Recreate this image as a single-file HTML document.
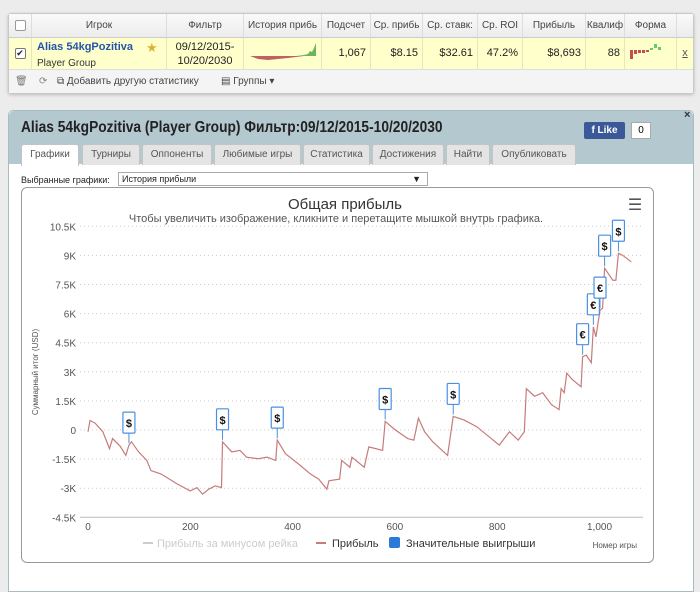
<!DOCTYPE html>
<html><head><meta charset="utf-8"><style>
body{margin:0;width:700px;height:584px;background:#ececec;font-family:"Liberation Sans","DejaVu Sans",sans-serif;position:relative;overflow:hidden}
.abs{position:absolute}
#tbl{left:8px;top:13px;width:684px;height:79px;background:#fff;border:1px solid #c8c8c8;border-radius:3px;box-shadow:0 1px 3px #bbb}
.hc{position:absolute;top:0;height:23px;line-height:23px;font-size:10px;color:#444;text-align:center;border-right:1px solid #ddd;background:linear-gradient(#fafafa,#ececec);border-bottom:1px solid #ccc;overflow:hidden;white-space:nowrap}
.dc{position:absolute;top:24px;height:31px;font-size:11px;color:#222;background:#ffffcc;border-right:1px solid #e5e5c0;border-bottom:1px solid #ddd;text-align:right;line-height:31px;overflow:hidden}
#panel{left:8px;top:110px;width:684px;height:480px;background:#fff;border-radius:5px 5px 0 0;border:1px solid #a9bcc2}
#phead{left:0;top:0;width:684px;height:53px;background:#b3c8cf;border-radius:5px 5px 0 0}
.tab{position:absolute;top:33px;height:20px;line-height:20px;font-size:10px;color:#555;background:#e4e4e4;border:1px solid #c4c4c4;border-bottom:none;border-radius:3px 3px 0 0;text-align:center}
</style></head><body>
<div id="tbl" class="abs">
 <div class="hc" style="left:0;width:22px"><span style="display:inline-block;width:9px;height:9px;border:1px solid #999;border-radius:2px;background:#fff;margin-top:6px"></span></div>
 <div class="hc" style="left:23px;width:134px">Игрок</div>
 <div class="hc" style="left:158px;width:76px">Фильтр</div>
 <div class="hc" style="left:235px;width:77px">История прибь</div>
 <div class="hc" style="left:313px;width:48px">Подсчет</div>
 <div class="hc" style="left:362px;width:51px">Ср. прибь</div>
 <div class="hc" style="left:414px;width:54px">Ср. ставк:</div>
 <div class="hc" style="left:469px;width:44px">Ср. ROI</div>
 <div class="hc" style="left:514px;width:62px">Прибыль</div>
 <div class="hc" style="left:577px;width:38px">Квалиф</div>
 <div class="hc" style="left:616px;width:51px">Форма</div>
 <div class="hc" style="left:668px;width:16px;border-right:none"></div>
 <div class="dc" style="left:0;width:22px;text-align:center"><span style="display:inline-block;width:9px;height:9px;border:1px solid #777;border-radius:2px;background:#fff;font-size:9px;line-height:9px">✔</span></div>
 <div class="dc" style="left:23px;width:134px;text-align:left;line-height:14px"><div style="padding:2px 0 0 5px;font-weight:bold;color:#2255aa;font-size:11px">Alias 54kgPozitiva</div><div style="padding:3px 0 0 5px;font-size:10px;color:#333">Player Group</div><span class="abs" style="left:114px;top:3px;color:#d8b53a;font-size:13px">★</span></div>
 <div class="dc" style="left:158px;width:76px;text-align:center;line-height:14px;padding-top:2px;height:29px">09/12/2015-<br>10/20/2030</div>
 <div class="dc" style="left:235px;width:77px"><svg width="77" height="31"><path d="M6 18 L14 21 L24 22 L34 21 L44 20 L52 19 L60 18 Z" fill="#c06060"/><path d="M52 18 L60 17 L64 16 L66 13 L68 14 L70 10 L72 5 L72 18 Z" fill="#6cb35c"/></svg></div>
 <div class="dc" style="left:313px;width:44px;padding-right:4px">1,067</div>
 <div class="dc" style="left:362px;width:47px;padding-right:4px">$8.15</div>
 <div class="dc" style="left:414px;width:50px;padding-right:4px">$32.61</div>
 <div class="dc" style="left:469px;width:40px;padding-right:4px">47.2%</div>
 <div class="dc" style="left:514px;width:58px;padding-right:4px">$8,693</div>
 <div class="dc" style="left:577px;width:34px;padding-right:4px">88</div>
 <div class="dc" style="left:616px;width:51px"><svg width="51" height="31"><rect x="5" y="12" width="3" height="9" fill="#c05050"/><rect x="9" y="12" width="3" height="4" fill="#c05050"/><rect x="13" y="12" width="3" height="3" fill="#c05050"/><rect x="17" y="12" width="3" height="3" fill="#c05050"/><rect x="21" y="12" width="3" height="2" fill="#c05050"/><rect x="25" y="10" width="3" height="2" fill="#6c6"/><rect x="29" y="6" width="3" height="4" fill="#6c6"/><rect x="33" y="9" width="3" height="3" fill="#6c6"/></svg></div>
 <div class="dc" style="left:668px;width:16px;border-right:none;text-align:center;text-decoration:underline;color:#555">x</div>
 <div class="abs" style="left:0;top:56px;width:684px;height:23px;background:#f4f4f4;font-size:10px;color:#444;line-height:23px">
  <span class="abs" style="left:6px;color:#777">🗑</span>
  <span class="abs" style="left:30px;color:#888">⟳</span>
  <span class="abs" style="left:48px">⧉ Добавить другую статистику</span>
  <span class="abs" style="left:212px">▤ Группы ▾</span>
 </div>
</div>
<div id="panel" class="abs">
 <div id="phead" class="abs">
  <div class="abs" style="left:12px;top:8px;font-size:16px;font-weight:bold;color:#222;transform:scaleX(0.86);transform-origin:0 0;white-space:nowrap">Alias 54kgPozitiva (Player Group) Фильтр:09/12/2015-10/20/2030</div>
  <div class="abs" style="left:575px;top:11px;width:41px;height:17px;background:#3b5998;color:#fff;font-size:10px;font-weight:bold;line-height:17px;text-align:center;border-radius:2px">f Like</div>
  <div class="abs" style="left:622px;top:11px;width:18px;height:15px;background:#fff;border:1px solid #aaa;font-size:10px;text-align:center;line-height:15px">0</div>
  <div class="abs" style="left:675px;top:-2px;font-size:11px;font-weight:bold;color:#333">×</div>
  <div class="tab" style="left:12px;width:56px;background:#fff;height:21px">Графики</div>
  <div class="tab" style="left:73px;width:56px">Турниры</div>
  <div class="tab" style="left:133px;width:68px">Оппоненты</div>
  <div class="tab" style="left:205px;width:85px">Любимые игры</div>
  <div class="tab" style="left:294px;width:65px">Статистика</div>
  <div class="tab" style="left:363px;width:70px">Достижения</div>
  <div class="tab" style="left:437px;width:42px">Найти</div>
  <div class="tab" style="left:483px;width:82px">Опубликовать</div>
 </div>
 <div class="abs" style="left:12px;top:64px;font-size:9px;color:#222">Выбранные графики:</div>
 <div class="abs" style="left:109px;top:61px;width:305px;height:12px;border:1px solid #aaa;font-size:9px;line-height:12px;padding-left:3px;color:#222">История прибыли<span style="position:absolute;right:6px">▼</span></div>
 <div class="abs" style="left:12px;top:76px;width:631px;height:374px;border:1px solid #999;border-radius:6px"></div>
</div>
<svg id="chart" class="abs" style="left:0;top:0" width="700" height="584"></svg>
<script>
const games=[0,4,14,29,42,48,63,74,80,85,99,115,123,143,175,200,213,224,236,249,261,263,281,297,310,333,350,367,370,386,411,435,451,467,471,492,496,512,516,540,549,576,581,601,625,637,646,658,674,703,714,735,760,792,804,824,841,853,857,873,889,906,921,925,931,936,946,964,967,974,984,988,993,1001,1006,1010,1026,1032,1037,1045,1062];
const profit=[-90,490,350,-90,-960,-440,-840,-1310,-780,-610,-1130,-1570,-2090,-2270,-2790,-3140,-2970,-3310,-3050,-2880,-2970,-610,-1130,-1050,-1400,-1480,-1400,-1570,-520,-1220,-1740,-2270,-2530,-3050,-2620,-2530,-1570,-1920,-1400,-1920,-870,-1050,440,0,-440,-520,610,-90,-610,-1310,700,520,170,-520,-780,-90,-520,-90,2130,1740,1920,1310,1050,2130,1920,2930,2620,2230,3780,3860,3470,5320,4800,6180,6280,8340,7720,7720,9110,9010,8670];
const flagGames=[80,263,370,581,714,967,988,1001,1010,1037];
const flagSymbols=['$','$','$','$','$','€','€','€','$','$'];
const yTicks=[10500,9000,7500,6000,4500,3000,1500,0,-1500,-3000,-4500];
const yTickLabels=['10.5K','9K','7.5K','6K','4.5K','3K','1.5K','0','-1.5K','-3K','-4.5K'];
const xTicks=[0,200,400,600,800,1000];
const xTickLabels=['0','200','400','600','800','1,000'];
const X=g=>88+g*0.5115, Y=v=>430-v*0.0194;
const svg=document.getElementById('chart'),NS='http://www.w3.org/2000/svg';
function mk(t,a,txt){const e=document.createElementNS(NS,t);for(const k in a)e.setAttribute(k,a[k]);if(txt!=null)e.textContent=txt;svg.appendChild(e);return e;}
let e;
e=mk('text',{x:345,y:209,'font-size':15,fill:'#333','text-anchor':'middle'},'Общая прибыль');


e=mk('text',{x:336,y:222,'font-size':11,fill:'#555','text-anchor':'middle'},'Чтобы увеличить изображение, кликните и перетащите мышкой внутрь графика.');


e=mk('text',{x:635,y:210,'font-size':16,fill:'#555','text-anchor':'middle'},'☰');


yTicks.forEach((v,i)=>{
 if(i<yTicks.length-1){e=mk('line',{x1:80,x2:643,y1:Y(v),y2:Y(v),stroke:'#ccc','stroke-dasharray':'1,3'});
 
 }
 e=mk('text',{x:76,y:Y(v)+4,'font-size':10,fill:'#555','text-anchor':'end'},yTickLabels[i]);
 
 
});
e=mk('line',{x1:80,x2:643,y1:Y(-4500),y2:Y(-4500),stroke:'#bbb'});


xTicks.forEach((g,i)=>{
 e=mk('text',{x:X(g),y:530,'font-size':10,fill:'#555','text-anchor':'middle'},xTickLabels[i]);
 
 
});
e=mk('text',{x:38,y:372,'font-size':8,fill:'#555','text-anchor':'middle',transform:'rotate(-90 38 372)'},'Суммарный итог (USD)');


e=mk('text',{x:637,y:548,'font-size':8,fill:'#555','text-anchor':'end'},'Номер игры');


e=mk('polyline',{points:games.map((g,i)=>X(g)+','+Y(profit[i])).join(' '),fill:'none',stroke:'#c77b7b','stroke-width':1.2});


function interp(g){for(let i=1;i<games.length;i++)if(games[i]>=g){const t=(g-games[i-1])/(games[i]-games[i-1]||1);return profit[i-1]+t*(profit[i]-profit[i-1]);}return profit[profit.length-1];}
flagGames.forEach((g,i)=>{
 const x=X(g),y=Y(interp(g));
 e=mk('line',{x1:x,x2:x,y1:y-2,y2:y-12,stroke:'#4a90e2'});
 
 
 e=mk('rect',{x:x-6,y:y-33,width:12,height:21,fill:'#fff',stroke:'#4a90e2','stroke-width':1.2,rx:1});
 
 
 e=mk('text',{x:x,y:y-18,'font-size':11,'font-weight':'bold',fill:'#111','text-anchor':'middle'},flagSymbols[i]);
 
 
});
e=mk('line',{x1:143,x2:153,y1:543,y2:543,stroke:'#ccc','stroke-width':2});


e=mk('text',{x:157,y:547,'font-size':11,fill:'#ccc'},'Прибыль за минусом рейка');


e=mk('line',{x1:316,x2:326,y1:543,y2:543,stroke:'#c77b7b','stroke-width':2});


e=mk('text',{x:332,y:547,'font-size':11,fill:'#333'},'Прибыль');


e=mk('rect',{x:389,y:537,width:11,height:11,fill:'#2a7ad8',rx:2});


e=mk('text',{x:406,y:547,'font-size':11,fill:'#333'},'Значительные выигрыши');


</script>
</body></html>
